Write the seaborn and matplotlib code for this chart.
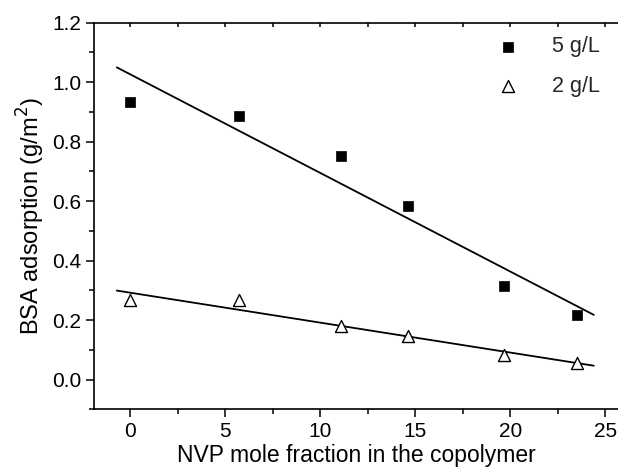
import numpy as np
import pandas as pd
import matplotlib
matplotlib.use("Agg")
import matplotlib.pyplot as plt
from matplotlib.ticker import MultipleLocator, FormatStrFormatter
import seaborn as sns

# NVP mole fraction (%) of each copolymer
nvp_fraction = [0.0, 5.75, 11.1, 14.6, 19.65, 23.5]
# BSA adsorbed amount (g/m^2) at two protein concentrations
bsa_5gL = [0.934, 0.886, 0.752, 0.583, 0.315, 0.216]
bsa_2gL = [0.269, 0.267, 0.180, 0.147, 0.082, 0.057]
series_labels = ["5 g/L", "2 g/L"]
# span of the fitted trend lines
fit_range = [-0.7, 24.4]

sns.set_theme(style="white")
plt.rcParams["font.family"] = ["Liberation Sans", "DejaVu Sans"]

fig = plt.figure(figsize=(6.18, 4.74), dpi=100)
ax = fig.add_axes([94 / 618, 1 - 409.3 / 474, 524.5 / 618, (409.3 - 22.7) / 474])

df = pd.DataFrame({"x": nvp_fraction, "a": bsa_5gL, "b": bsa_2gL})

sns.scatterplot(data=df, x="x", y="a", marker="s", s=62, color="black",
                edgecolor="black", linewidth=0.5, ax=ax, label=series_labels[0], zorder=3)
sns.scatterplot(data=df, x="x", y="b", marker="^", s=75, facecolor="white",
                edgecolor="black", linewidth=1.0, ax=ax, label=series_labels[1], zorder=3)

# least-squares trend lines
xfit = np.array(fit_range)
for col in ["a", "b"]:
    k, c = np.polyfit(df["x"], df[col], 1)
    sns.lineplot(x=xfit, y=k * xfit + c, color="black", linewidth=1.3, ax=ax,
                 legend=False, zorder=2)

ax.set_xlim(-1.9, 25.7)
ax.set_ylim(-0.1, 1.2)
ax.xaxis.set_major_locator(MultipleLocator(5))
ax.xaxis.set_minor_locator(MultipleLocator(2.5))
ax.yaxis.set_major_locator(MultipleLocator(0.2))
ax.yaxis.set_minor_locator(MultipleLocator(0.1))
ax.yaxis.set_major_formatter(FormatStrFormatter("%.1f"))

for side in ["left", "bottom", "top"]:
    ax.spines[side].set_visible(True)
    ax.spines[side].set_color("black")
    ax.spines[side].set_linewidth(1.2)
ax.spines["right"].set_visible(False)

ax.tick_params(axis="both", which="major", direction="out", length=6, width=1.1,
               color="black", labelsize=15, labelcolor="black", pad=3)
ax.tick_params(axis="both", which="minor", direction="out", length=3.5, width=1.1,
               color="black")
ax.tick_params(axis="x", which="both", top=True, bottom=True)
ax.tick_params(axis="y", which="both", left=True, right=False)
# ticks on the top edge point inward
for t in ax.xaxis.get_major_ticks() + ax.xaxis.get_minor_ticks():
    t.tick2line.set_marker(3)  # TICKDOWN
    t.tick2line.set_markersize(3)

ax.set_xlabel("NVP mole fraction in the copolymer", fontsize=16.5, color="black", labelpad=2)
ax.set_ylabel("BSA adsorption (g/m$^2$)", fontsize=17, color="black", labelpad=4)

leg = ax.legend(loc="upper right", frameon=False, fontsize=15.5, handletextpad=1.3,
                labelspacing=0.86, borderaxespad=0.0, borderpad=0.4, handlelength=1.5,
                bbox_to_anchor=(0.981, 0.987))

fig.savefig("out.png", dpi=100)
